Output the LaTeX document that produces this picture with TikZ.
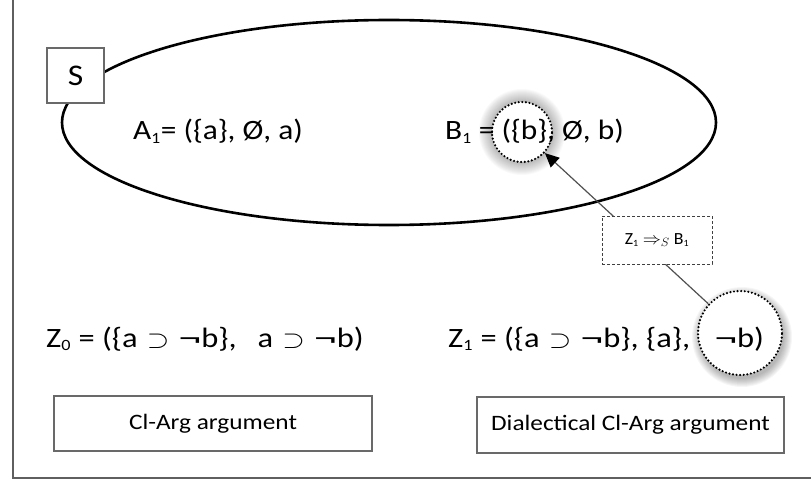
\documentclass[tikz,border=0pt]{standalone}
\usepackage{graphicx}
\usepackage{fontspec}
\setmainfont{Carlito}
\usetikzlibrary{arrows.meta, shapes.geometric, backgrounds}
\definecolor{framegray}{RGB}{95,95,95}
\definecolor{boxgray}{RGB}{105,105,105}
\definecolor{arrowgray}{RGB}{80,80,80}

% text in the picture is a bit wider than the font
\newcommand{\wid}[2][1.12]{\scalebox{#1}[1]{#2}}
\newcommand{\supsym}{\hspace{8pt}{\fontsize{36}{36}\selectfont$\supset$}\hspace{8pt}}
\newcommand{\negsym}{\scalebox{1.4}[1]{¬}}
\newcommand{\idx}[1]{\textsubscript{\scalebox{0.8}{#1}}}

\tikzset{
  argbox/.style={draw=boxgray, line width=1.3pt, fill=white, font=\fontsize{22}{26}\selectfont},
  hilite/.style={circle, draw=black, fill=white, line width=2.4pt, dash pattern=on 0pt off 3.6pt, line cap=round, inner sep=0pt},
  formula/.style={anchor=base west, inner sep=0pt, font=\fontsize{28}{32}\selectfont},
}

\begin{document}
\begin{tikzpicture}[x=1pt, y=-1pt]
  \useasboundingbox (0,0) rectangle (811,481);
  % frame
  \draw[framegray, line width=1.5pt] (13,0) -- (13,478) -- (811,478);

  % the set S
  \node[draw, ellipse, line width=2.6pt, minimum width=654pt, minimum height=205pt] (set) at (389,122.5) {};
  \node[draw=boxgray, line width=1.3pt, fill=white, minimum width=57pt, minimum height=55pt, font=\fontsize{30}{34}\selectfont] (S) at (75.5,75.5) {\wid{S}};

  % highlighted parts
  \node[hilite, minimum size=60pt] (cb) at (522,132) {};
  \node[hilite, minimum size=84pt] (cnb) at (740,333) {};
  \begin{scope}[on background layer]
    \foreach \k in {1,...,13}
      \fill[black, opacity=0.022] (cb) circle[radius=30+\k];
    \foreach \k in {1,...,9}
      \fill[black, opacity=0.035] ([shift={(2,4)}]cnb.center) circle[radius=41+\k];
  \end{scope}

  % arguments
  \node[formula] (A1) at (133,140) {\wid{A\idx{1}= (\{a\}, Ø, a)}};
  \node[formula] (B1) at (445,140) {\wid{B\idx{1} = (\{b\}, Ø, b)}};
  \node[formula] (Z0) at (46,347) {\wid[1.16]{Z\idx{0} = (\{a\supsym\negsym b\},\hspace{18pt}a\supsym\negsym b)}};
  \node[formula] (Z1) at (448,347) {\wid[1.16]{Z\idx{1} = (\{a\supsym\negsym b\}, \{a\},\hspace{21pt}\negsym b)}};

  % attack
  \draw[arrowgray, line width=1.2pt, -{Triangle[length=14pt, width=13pt, color=black]}] (cnb) -- (cb);
  \node[draw=black!75, fill=white, line width=0.9pt, dash pattern=on 3pt off 2pt, minimum width=110pt, minimum height=48pt, font=\fontsize{17}{19}\selectfont] (rel) at (657,240) {\wid[1.05]{Z\idx{1} $\Rightarrow_{S}$ B\idx{1}}};

  % captions
  \node[argbox, minimum width=318pt, minimum height=55pt] (cl) at (213,423.5) {\wid[1.15]{Cl-Arg argument}};
  \node[argbox, minimum width=307pt, minimum height=56pt] (dcl) at (630.5,425) {\wid[1.15]{Dialectical Cl-Arg argument}};
\end{tikzpicture}
\end{document}
